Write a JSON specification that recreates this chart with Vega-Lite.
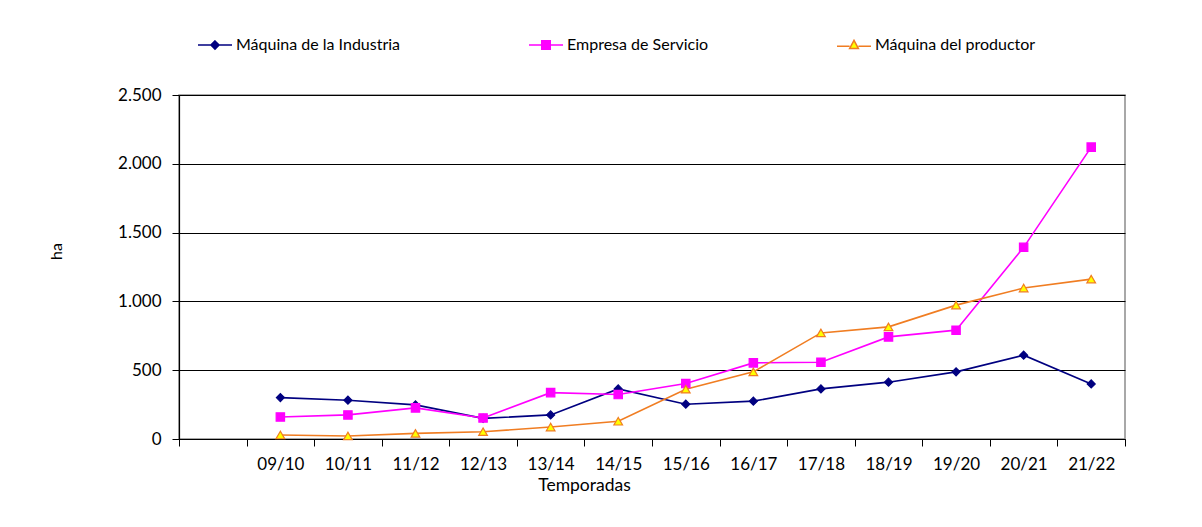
{
  "$schema": "https://vega.github.io/schema/vega-lite/v6.json",
  "width": 946,
  "height": 344,
  "autosize": {"type": "none"},
  "padding": {"left": 179, "top": 95, "right": 77, "bottom": 88},
  "background": "white",
  "config": {
    "font": "Lato",
    "view": {"stroke": "#8c8c8c", "strokeWidth": 1.5},
    "axis": {"labelFont": "Lato", "titleFont": "Lato", "labelColor": "#000", "titleColor": "#000", "titleFontWeight": "normal"}
  },
  "data": {
    "values": [
      {"t": "09/10", "s": "Máquina de la Industria", "v": 301},
      {"t": "10/11", "s": "Máquina de la Industria", "v": 282},
      {"t": "11/12", "s": "Máquina de la Industria", "v": 248},
      {"t": "12/13", "s": "Máquina de la Industria", "v": 150},
      {"t": "13/14", "s": "Máquina de la Industria", "v": 175},
      {"t": "14/15", "s": "Máquina de la Industria", "v": 364},
      {"t": "15/16", "s": "Máquina de la Industria", "v": 253},
      {"t": "16/17", "s": "Máquina de la Industria", "v": 275},
      {"t": "17/18", "s": "Máquina de la Industria", "v": 364},
      {"t": "18/19", "s": "Máquina de la Industria", "v": 413},
      {"t": "19/20", "s": "Máquina de la Industria", "v": 488},
      {"t": "20/21", "s": "Máquina de la Industria", "v": 609},
      {"t": "21/22", "s": "Máquina de la Industria", "v": 400},
      {"t": "09/10", "s": "Empresa de Servicio", "v": 160},
      {"t": "10/11", "s": "Empresa de Servicio", "v": 175},
      {"t": "11/12", "s": "Empresa de Servicio", "v": 226},
      {"t": "12/13", "s": "Empresa de Servicio", "v": 153},
      {"t": "13/14", "s": "Empresa de Servicio", "v": 337},
      {"t": "14/15", "s": "Empresa de Servicio", "v": 323},
      {"t": "15/16", "s": "Empresa de Servicio", "v": 403},
      {"t": "16/17", "s": "Empresa de Servicio", "v": 553},
      {"t": "17/18", "s": "Empresa de Servicio", "v": 558},
      {"t": "18/19", "s": "Empresa de Servicio", "v": 742},
      {"t": "19/20", "s": "Empresa de Servicio", "v": 791},
      {"t": "20/21", "s": "Empresa de Servicio", "v": 1393},
      {"t": "21/22", "s": "Empresa de Servicio", "v": 2121},
      {"t": "09/10", "s": "Máquina del productor", "v": 29},
      {"t": "10/11", "s": "Máquina del productor", "v": 22},
      {"t": "11/12", "s": "Máquina del productor", "v": 41},
      {"t": "12/13", "s": "Máquina del productor", "v": 53},
      {"t": "13/14", "s": "Máquina del productor", "v": 87},
      {"t": "14/15", "s": "Máquina del productor", "v": 129},
      {"t": "15/16", "s": "Máquina del productor", "v": 362},
      {"t": "16/17", "s": "Máquina del productor", "v": 488},
      {"t": "17/18", "s": "Máquina del productor", "v": 771},
      {"t": "18/19", "s": "Máquina del productor", "v": 815},
      {"t": "19/20", "s": "Máquina del productor", "v": 973},
      {"t": "20/21", "s": "Máquina del productor", "v": 1097},
      {"t": "21/22", "s": "Máquina del productor", "v": 1162}
    ]
  },
  "encoding": {
    "x": {
      "field": "t", "type": "nominal", "bandPosition": 0.5,
      "scale": {"type": "band", "domain": ["", "09/10", "10/11", "11/12", "12/13", "13/14", "14/15", "15/16", "16/17", "17/18", "18/19", "19/20", "20/21", "21/22"], "paddingInner": 0, "paddingOuter": 0},
      "axis": {
        "title": "Temporadas", "titleFontSize": 17.5, "titleX": 405, "titleY": 51, "titleBaseline": "alphabetic", "titleAnchor": null,
        "labelAngle": 0, "labelFontSize": 17, "labelPadding": 10, "tickSize": 7, "tickColor": "#000", "domainColor": "#000", "domainWidth": 1.2, "tickBand": "extent", "grid": false
      }
    },
    "y": {
      "field": "v", "type": "quantitative",
      "scale": {"domain": [0, 2500]},
      "axis": {
        "title": "ha", "titleFontSize": 16, "titleAngle": 270, "titleX": -123, "titleY": 156, "titleAlign": "center", "titleBaseline": "middle",
        "values": [0, 500, 1000, 1500, 2000, 2500],
        "labelExpr": "replace(format(datum.value, ','), ',', '.')",
        "labelFontSize": 17, "labelPadding": 11, "tickSize": 7, "tickColor": "#000", "domainColor": "#000", "domainWidth": 1.2,
        "grid": true, "gridColor": "#000", "gridWidth": 1
      }
    }
  },
  "layer": [
    {
      "mark": {"type": "line", "strokeWidth": 1.6},
      "encoding": {
        "color": {
          "field": "s", "type": "nominal",
          "scale": {"domain": ["Máquina de la Industria", "Empresa de Servicio", "Máquina del productor"], "range": ["#000080", "#ff00ff", "#f07d22"]},
          "legend": {
            "orient": "none", "legendX": 18, "legendY": -68, "direction": "horizontal", "title": null,
            "labelFont": "Lato", "labelFontSize": 16, "labelColor": "#000", "labelOffset": 3, "labelLimit": 400, "columnPadding": 125,
            "symbolSize": 1156, "symbolStrokeWidth": 1.5,
            "encode": {
              "symbols": {
                "update": {
                  "shape": {"signal": "datum.value === 'Máquina de la Industria' ? 'M-1,0H1M0,-0.24L0.24,0L0,0.24L-0.24,0Z' : datum.value === 'Empresa de Servicio' ? 'M-1,0H1M-0.25,-0.25H0.25V0.25H-0.25Z' : 'M-1,0.08H-0.26M0.26,0.08H1M-0.26,0.21L0,-0.27L0.26,0.21Z'"},
                  "fill": {"signal": "datum.value === 'Máquina de la Industria' ? '#000080' : datum.value === 'Empresa de Servicio' ? '#ff00ff' : '#ffff00'"},
                  "stroke": {"signal": "datum.value === 'Máquina de la Industria' ? '#000080' : datum.value === 'Empresa de Servicio' ? '#ff00ff' : '#f07d22'"},
                  "opacity": {"value": 1},
                  "fillOpacity": {"value": 1},
                  "strokeOpacity": {"value": 1}
                }
              }
            }
          }
        }
      }
    },
    {
      "mark": {"type": "point", "filled": false, "opacity": 1, "strokeWidth": 1.2},
      "encoding": {
        "shape": {
          "condition": [
            {"test": "datum.s === 'Empresa de Servicio'", "value": "square"},
            {"test": "datum.s === 'Máquina del productor'", "value": "triangle-up"}
          ],
          "value": "diamond"
        },
        "size": {
          "condition": [
            {"test": "datum.s === 'Empresa de Servicio'", "value": 70},
            {"test": "datum.s === 'Máquina del productor'", "value": 75}
          ],
          "value": 64
        },
        "fill": {
          "condition": [
            {"test": "datum.s === 'Empresa de Servicio'", "value": "#ff00ff"},
            {"test": "datum.s === 'Máquina del productor'", "value": "#ffff00"}
          ],
          "value": "#000080"
        },
        "stroke": {
          "condition": [
            {"test": "datum.s === 'Empresa de Servicio'", "value": "#ff00ff"},
            {"test": "datum.s === 'Máquina del productor'", "value": "#f07d22"}
          ],
          "value": "#000080"
        }
      }
    }
  ]
}
